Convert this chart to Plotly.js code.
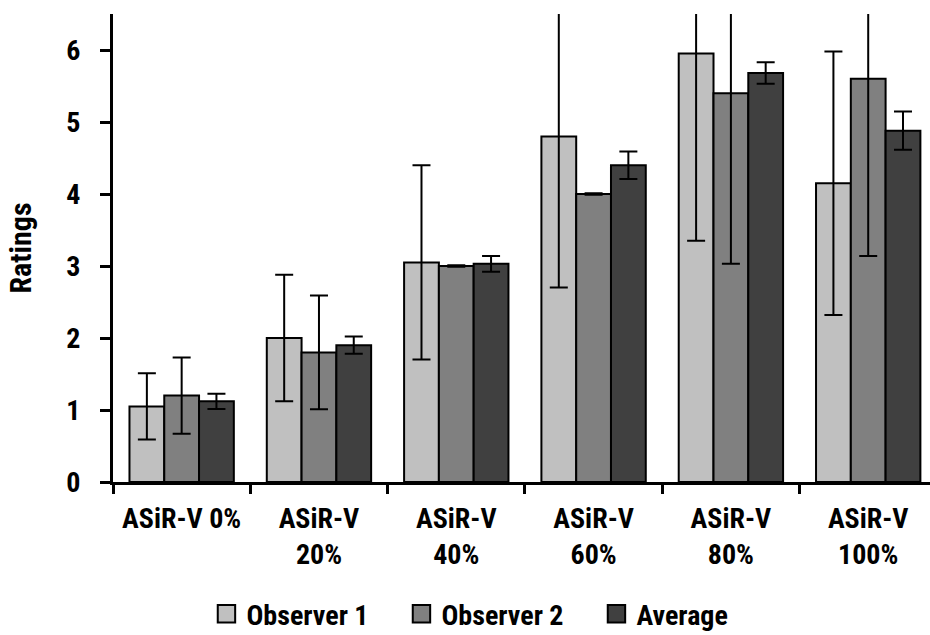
<!DOCTYPE html>
<html>
<head>
<meta charset="utf-8">
<script src="https://cdn.plot.ly/plotly-3.0.1.min.js"></script>
<style>html,body{margin:0;padding:0;background:#fff;}#chart{width:930px;height:635px;}</style>
</head>
<body>
<div id="chart"></div>
<script>
var categories = ['ASiR-V 0%', 'ASiR-V<br>20%', 'ASiR-V<br>40%', 'ASiR-V<br>60%', 'ASiR-V<br>80%', 'ASiR-V<br>100%'];
var seriesNames = ['Observer 1', 'Observer 2', 'Average'];
var observer1 = [1.05, 2.0, 3.05, 4.8, 5.95, 4.15];
var observer1Err = [0.46, 0.88, 1.35, 2.1, 2.6, 1.83];
var observer2 = [1.2, 1.8, 3.0, 4.0, 5.4, 5.6];
var observer2Err = [0.53, 0.79, 0.01, 0.01, 2.37, 2.46];
var average = [1.12, 1.9, 3.03, 4.4, 5.68, 4.88];
var averageErr = [0.105, 0.12, 0.11, 0.19, 0.15, 0.265];
var yTicks = [0, 1, 2, 3, 4, 5, 6];

var FONT = '"Roboto Condensed", "Liberation Sans", sans-serif';
var colors = ['#c0c0c0', '#808080', '#404040'];
var values = [observer1, observer2, average];
var errs = [observer1Err, observer2Err, averageErr];

var traces = values.map(function (v, i) {
  return {
    type: 'bar',
    name: seriesNames[i],
    x: categories,
    y: v,
    marker: {color: colors[i], line: {color: '#000', width: 2}},
    error_y: {type: 'data', array: errs[i], visible: true, color: '#000', thickness: 2, width: 9}
  };
});

var layout = {
  width: 930, height: 635,
  margin: {l: 113, r: 0, t: 14, b: 153},
  paper_bgcolor: '#fff', plot_bgcolor: '#fff',
  barmode: 'group', bargap: 0.24, bargroupgap: 0,
  font: {family: FONT, color: '#000', size: 28},
  xaxis: {
    type: 'category',
    range: [-0.5, 5.45],
    showline: true, linecolor: '#000', linewidth: 3,
    ticks: 'outside', tickson: 'boundaries', ticklen: 9, tickwidth: 3, tickcolor: '#000',
    tickfont: {family: FONT, size: 28, color: '#000', weight: 'bold'},
    ticklabelstandoff: 9,
    showgrid: false, zeroline: false, fixedrange: true
  },
  yaxis: {
    range: [0, 6.5],
    tickvals: yTicks,
    ticktext: yTicks.map(String),
    showline: true, linecolor: '#000', linewidth: 3,
    ticks: 'outside', ticklen: 10, tickwidth: 3, tickcolor: '#000',
    tickfont: {family: FONT, size: 28, color: '#000', weight: 'bold'},
    ticklabelstandoff: 14,
    showgrid: false, zeroline: false,
    title: {text: 'Ratings', font: {family: FONT, size: 30, color: '#000', weight: 'bold'}, standoff: 26}
  },
  showlegend: true,
  legend: {
    orientation: 'h', xref: 'container', yref: 'container',
    x: 0.222, xanchor: 'left', y: 0.033, yanchor: 'middle',
    font: {family: FONT, size: 28, color: '#000', weight: 'bold'},
    itemwidth: 30, traceorder: 'normal',
    entrywidth: 150, entrywidthmode: 'pixels'
  }
};

Plotly.newPlot('chart', traces, layout, {displayModeBar: false, staticPlot: true}).then(function (gd) {
  var pts = gd.querySelectorAll('.legend .legendpoints path');
  pts.forEach(function (p) {
    var t = p.getAttribute('transform') || '';
    p.setAttribute('transform', t + ' scale(1.45)');
    p.style.strokeWidth = '1.4px';
  });
});
</script>
</body>
</html>
